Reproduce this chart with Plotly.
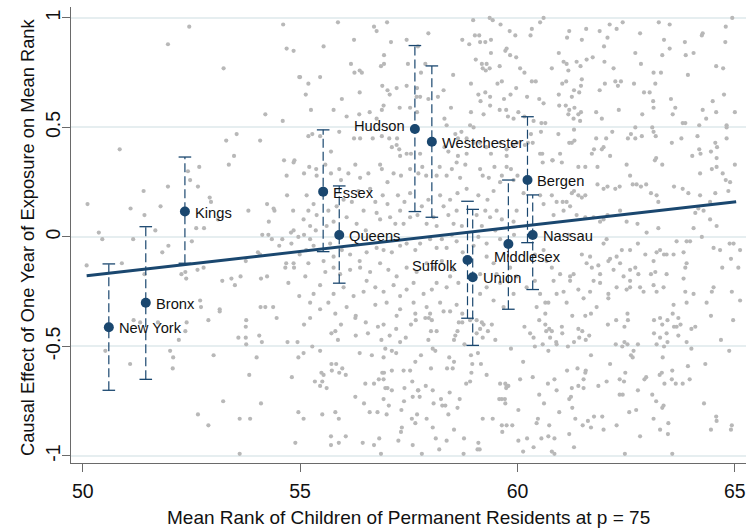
import plotly.graph_objects as go

# Highlighted counties: mean rank of permanent residents' children at p=75,
# causal effect of one year of exposure, and 95% confidence bounds
county = ["New York", "Bronx", "Kings", "Essex", "Queens", "Hudson", "Westchester",
          "Suffolk", "Union", "Middlesex", "Bergen", "Nassau"]
county_rank = [50.60, 51.45, 52.35, 55.53, 55.90, 57.64, 58.03, 58.85, 58.97, 59.79, 60.23, 60.35]
county_effect = [-0.412, -0.300, 0.116, 0.207, 0.009, 0.493, 0.435, -0.105, -0.184, -0.032, 0.260, 0.009]
ci_low = [-0.700, -0.650, -0.120, -0.067, -0.211, 0.116, 0.090, -0.371, -0.495, -0.330, -0.026, -0.240]
ci_high = [-0.123, 0.047, 0.365, 0.489, 0.233, 0.874, 0.781, 0.163, 0.126, 0.260, 0.549, 0.192]

# Linear fit across all counties
fit_rank = [50.09, 65.03]
fit_effect = [-0.177, 0.161]

x_ticks = [50, 55, 60, 65]
y_ticks = [-1, -0.5, 0, 0.5, 1]
y_tick_text = ["-1", "-0.5", "0", "0.5", "1"]

x_title = "Mean Rank of Children of Permanent Residents at p = 75"
y_title = "Causal Effect of One Year of Exposure on Mean Rank"

# All other counties (rank, effect)
other_counties = [
    (52.45, 0.96), (51.96, 0.88), (54.61, 0.97), (54.69, 0.86), (54.85, 0.85), (53.24, 0.77),
    (54.98, 0.73), (54.20, 0.56), (54.60, 0.53), (53.54, 0.47), (53.30, 0.44), (54.08, 0.44),
    (50.85, 0.40), (53.48, 0.37), (54.87, 0.35),
    (55.87, 0.98), (56.70, 0.96), (57.00, 0.98), (56.76, 0.94), (55.54, 0.87), (56.24, 0.90),
    (57.09, 0.89), (57.45, 0.90), (57.95, 0.93), (57.71, 0.87), (56.93, 0.83), (56.17, 0.79),
    (56.25, 0.75), (56.37, 0.76), (56.42, 0.75), (56.86, 0.78), (56.93, 0.79), (57.48, 0.79),
    (57.88, 0.79), (57.78, 0.75), (55.00, 0.73), (55.46, 0.73), (55.19, 0.70), (55.13, 0.65),
    (55.25, 0.58), (55.77, 0.58), (55.96, 0.63), (56.37, 0.66), (56.89, 0.69), (57.01, 0.67),
    (57.06, 0.65), (57.22, 0.68), (57.45, 0.69), (57.69, 0.68), (57.68, 0.64), (57.76, 0.64),
    (57.95, 0.63), (56.88, 0.58), (56.92, 0.60), (57.29, 0.59), (57.53, 0.59), (57.69, 0.57),
    (56.07, 0.55), (56.36, 0.56), (56.60, 0.57), (56.76, 0.54), (55.46, 0.46), (55.19, 0.46),
    (55.28, 0.47), (56.24, 0.45), (56.38, 0.45), (56.67, 0.45), (56.88, 0.46), (57.05, 0.45),
    (57.23, 0.45), (57.11, 0.41), (57.22, 0.42), (57.28, 0.40), (57.45, 0.38), (57.55, 0.38),
    (57.76, 0.38), (57.30, 0.37), (55.71, 0.39), (55.90, 0.48), (58.17, 0.64), (58.30, 0.67),
    (58.47, 0.59), (58.32, 0.54), (58.37, 0.51), (58.57, 0.47), (58.63, 0.45), (58.73, 0.90),
    (58.89, 0.88), (59.02, 0.92), (59.12, 0.92), (59.14, 0.89), (59.26, 0.89), (59.39, 0.90),
    (58.98, 0.99), (59.36, 1.00), (59.43, 0.99), (59.61, 0.97), (59.82, 0.94), (59.95, 0.92),
    (59.04, 0.81), (59.18, 0.79), (59.20, 0.77), (59.27, 0.76), (59.29, 0.79), (59.36, 0.77),
    (59.39, 0.84), (59.59, 0.78), (59.72, 0.85), (59.75, 0.86), (59.83, 0.83), (59.97, 0.82),
    (58.52, 0.74), (58.93, 0.70), (59.10, 0.65), (59.15, 0.62), (59.26, 0.66), (59.37, 0.64),
    (59.54, 0.70), (59.64, 0.71), (59.69, 0.63), (59.84, 0.65), (59.97, 0.68), (59.37, 0.60),
    (59.22, 0.56), (58.93, 0.57), (59.59, 0.58), (59.74, 0.58), (59.78, 0.55), (59.91, 0.54),
    (60.02, 0.57), (58.91, 0.51), (58.99, 0.50), (58.71, 0.48), (58.83, 0.45), (58.99, 0.43),
    (59.14, 0.43), (59.28, 0.41), (59.39, 0.38), (59.60, 0.43), (59.75, 0.40), (59.91, 0.42),
    (58.32, 0.41), (58.41, 0.39), (58.63, 0.37), (58.83, 0.38), (59.75, 0.37), (59.99, 0.43),
    (60.60, 1.00), (60.52, 0.98), (60.33, 0.95), (60.30, 0.92), (61.19, 0.94), (61.14, 0.91),
    (61.48, 0.90), (61.58, 0.95), (61.89, 0.94), (62.12, 0.97), (62.28, 0.95), (62.42, 0.98),
    (62.07, 0.91), (61.99, 0.87), (62.82, 0.93), (63.25, 0.98), (63.50, 0.97), (63.37, 0.90),
    (63.85, 0.89), (64.26, 0.93), (64.24, 0.92), (64.79, 0.96), (64.94, 1.00), (64.78, 0.89),
    (63.50, 0.86), (63.33, 0.83), (63.87, 0.83), (64.05, 0.84), (62.71, 0.84), (62.84, 0.79),
    (60.95, 0.84), (60.79, 0.77), (61.06, 0.80), (61.13, 0.79), (61.36, 0.80), (61.45, 0.78),
    (61.59, 0.81), (61.73, 0.82), (62.00, 0.80), (62.21, 0.77), (61.17, 0.76), (60.06, 0.77),
    (60.16, 0.75), (60.33, 0.71), (60.42, 0.71), (61.48, 0.72), (61.12, 0.71), (61.03, 0.70),
    (61.46, 0.69), (61.30, 0.67), (62.01, 0.70), (62.25, 0.71), (62.38, 0.71), (62.31, 0.69),
    (62.68, 0.70), (61.89, 0.67), (61.42, 0.66), (61.25, 0.64), (60.95, 0.65), (60.22, 0.64),
    (60.50, 0.63), (60.60, 0.61), (60.96, 0.60), (61.11, 0.60), (61.19, 0.58), (61.31, 0.59),
    (61.46, 0.57), (61.40, 0.56), (61.29, 0.54), (61.17, 0.56), (61.44, 0.53), (61.81, 0.57),
    (61.94, 0.54), (62.33, 0.58), (62.87, 0.56), (62.91, 0.66), (63.04, 0.66), (63.12, 0.62),
    (63.13, 0.59), (63.17, 0.70), (63.13, 0.75), (63.30, 0.75), (63.92, 0.74), (63.53, 0.63),
    (63.63, 0.59), (63.57, 0.56), (63.80, 0.52), (63.86, 0.52), (64.18, 0.51), (64.26, 0.58),
    (64.34, 0.54), (64.49, 0.62), (64.57, 0.57), (64.75, 0.65), (64.57, 0.78), (64.73, 0.77),
    (65.00, 0.57), (64.81, 0.50), (60.16, 0.55), (60.37, 0.53), (60.55, 0.52), (60.64, 0.52),
    (60.31, 0.47), (60.35, 0.43), (60.17, 0.42), (60.24, 0.43), (60.54, 0.48), (60.52, 0.38),
    (60.57, 0.38), (60.94, 0.47), (61.19, 0.43), (61.25, 0.43), (61.31, 0.44), (60.98, 0.38),
    (61.30, 0.49), (60.80, 0.35), (61.81, 0.45), (62.04, 0.45), (62.18, 0.48), (61.98, 0.41),
    (61.94, 0.40), (61.76, 0.40), (61.71, 0.38), (62.13, 0.37), (62.54, 0.45), (62.61, 0.47),
    (62.71, 0.45), (62.71, 0.50), (62.86, 0.46), (63.10, 0.50), (63.13, 0.48), (63.18, 0.46),
    (63.19, 0.36), (63.55, 0.43), (63.77, 0.45), (64.14, 0.46), (64.18, 0.40), (64.21, 0.38),
    (64.02, 0.37), (64.45, 0.39), (64.55, 0.43), (64.59, 0.41), (64.81, 0.45), (64.81, 0.51),
    (64.58, 0.36),
    (52.42, 0.30), (52.47, 0.26), (52.68, 0.32), (52.65, 0.23), (53.36, 0.33), (51.96, 0.23),
    (51.40, 0.21), (50.11, 0.15), (51.10, 0.13), (51.42, 0.10), (51.79, 0.14), (52.92, 0.18),
    (52.95, 0.16), (53.11, 0.08), (52.61, 0.04), (52.79, 0.04), (51.67, 0.03), (50.37, 0.02),
    (50.45, -0.01), (51.16, -0.01), (52.51, -0.02), (51.97, -0.04), (51.83, -0.07), (50.09, -0.13),
    (50.90, -0.12), (51.42, -0.17), (52.27, -0.17), (52.38, -0.19), (52.36, -0.16), (52.64, -0.15),
    (52.78, -0.14), (52.70, -0.29), (52.72, -0.32), (53.15, -0.33), (53.21, -0.20), (53.42, -0.19),
    (53.50, -0.22), (53.63, -0.18), (53.75, -0.11), (53.81, 0.12), (54.03, -0.07), (54.08, -0.08),
    (54.13, 0.01), (54.24, 0.15), (54.39, 0.13), (54.41, 0.12), (54.28, 0.07), (54.35, -0.01),
    (54.27, 0.01), (54.52, -0.04), (54.59, -0.01), (54.70, 0.19), (54.84, 0.12), (54.79, 0.02),
    (54.85, 0.03), (54.80, -0.03), (54.96, 0.00), (54.68, -0.12), (54.66, -0.14), (54.85, -0.12),
    (54.86, -0.14), (54.99, -0.08), (54.10, -0.19), (54.24, -0.18), (54.73, -0.21), (54.98, -0.27),
    (54.38, -0.32), (54.20, -0.32), (54.09, -0.32), (54.63, 0.35), (54.85, 0.34), (54.69, 0.28),
    (55.09, 0.29), (55.21, 0.32), (55.38, 0.28), (55.37, 0.31), (55.58, 0.33), (55.71, 0.29),
    (55.90, 0.31), (55.94, 0.26), (56.11, 0.29), (56.27, 0.33), (56.38, 0.27), (56.57, 0.29),
    (56.84, 0.33), (56.88, 0.31), (57.01, 0.25), (57.15, 0.29), (57.32, 0.28), (57.53, 0.31),
    (57.72, 0.29), (57.81, 0.32), (57.90, 0.28), (58.14, 0.28), (58.21, 0.32), (58.37, 0.28),
    (58.49, 0.31), (58.60, 0.34), (58.68, 0.27), (58.80, 0.33), (59.14, 0.31), (59.20, 0.28),
    (59.34, 0.27), (59.47, 0.32), (59.60, 0.25), (59.64, 0.28), (59.75, 0.32), (59.85, 0.31),
    (59.91, 0.26), (60.00, 0.28), (59.45, 0.21), (59.31, 0.17), (59.10, 0.19), (58.83, 0.22),
    (58.62, 0.20), (58.45, 0.17), (58.30, 0.14), (58.22, 0.19), (57.95, 0.17), (57.80, 0.14),
    (57.53, 0.20), (57.40, 0.16), (57.25, 0.19), (57.01, 0.15), (56.90, 0.19), (56.73, 0.16),
    (56.61, 0.22), (56.34, 0.21), (56.19, 0.16), (56.00, 0.17), (55.84, 0.14), (55.65, 0.12),
    (55.38, 0.10), (55.31, 0.15), (55.15, 0.19), (55.19, 0.12), (55.08, 0.08), (55.23, 0.05),
    (55.36, 0.03), (55.09, 0.01), (55.23, -0.01), (55.14, -0.06), (55.31, -0.04), (55.61, 0.05),
    (55.69, -0.03), (55.77, 0.07), (56.07, 0.09), (56.30, 0.06), (56.46, 0.12), (56.51, 0.03),
    (56.76, 0.11), (56.84, 0.08), (57.07, 0.09), (57.30, 0.12), (57.19, 0.06), (57.38, 0.06),
    (57.53, 0.09), (57.70, 0.10), (57.91, 0.06), (58.07, 0.09), (58.14, 0.05), (58.41, 0.10),
    (58.53, 0.06), (58.60, 0.12), (58.72, 0.05), (59.06, 0.10), (59.26, 0.12), (59.37, 0.09),
    (59.52, 0.12), (59.64, 0.08), (59.91, 0.07), (59.98, 0.12), (59.18, 0.05), (59.49, 0.03),
    (59.60, -0.01), (59.92, 0.01), (58.49, 0.01), (58.26, -0.01), (58.37, -0.05), (58.60, -0.02),
    (58.74, -0.07), (58.14, -0.05), (57.99, -0.01), (57.76, -0.03), (57.65, -0.06), (57.45, -0.03),
    (57.30, -0.04), (57.11, -0.07), (56.92, -0.06), (56.76, -0.05), (56.53, -0.07), (56.37, -0.11),
    (56.15, -0.08), (55.96, -0.06), (55.77, -0.09), (55.54, -0.11), (55.58, -0.16), (55.77, -0.14),
    (55.92, -0.17), (56.15, -0.15), (56.38, -0.14), (56.61, -0.16), (56.84, -0.12), (57.03, -0.15),
    (57.22, -0.18), (57.45, -0.14), (57.68, -0.16), (57.91, -0.12), (58.07, -0.14), (58.26, -0.11),
    (58.53, -0.15), (58.45, -0.18), (58.64, -0.21), (58.37, -0.23), (58.14, -0.21), (58.03, -0.24),
    (57.84, -0.26), (57.61, -0.21), (57.45, -0.24), (57.30, -0.27), (57.15, -0.22), (56.92, -0.25),
    (56.73, -0.23), (56.53, -0.20), (56.46, -0.25), (56.23, -0.27), (56.00, -0.23), (55.77, -0.26),
    (55.65, -0.30), (55.46, -0.22), (55.31, -0.26), (55.23, -0.30), (55.12, -0.18), (55.19, -0.12),
    (59.29, -0.09), (59.45, -0.12), (59.52, -0.17), (59.60, -0.21), (59.29, -0.23), (59.14, -0.26),
    (59.45, -0.29), (59.68, -0.32), (59.91, -0.26), (59.98, -0.18), (59.83, -0.14), (59.14, -0.17),
    (59.29, -0.03), (59.10, 0.00), (58.99, -0.04), (56.73, -0.31), (56.99, -0.30), (57.30, -0.33),
    (57.61, -0.30), (57.91, -0.32), (58.22, -0.30), (58.60, -0.31), (56.07, -0.32), (55.46, -0.33),
    (60.58, 0.34), (60.81, 0.35), (61.02, 0.34), (61.40, 0.32), (61.56, 0.32), (61.84, 0.32),
    (62.51, 0.33), (63.16, 0.35), (63.33, 0.33), (64.20, 0.29), (64.47, 0.31), (64.58, 0.32),
    (64.72, 0.29), (64.89, 0.25), (64.79, 0.26), (65.00, 0.33), (60.14, 0.20), (60.52, 0.19),
    (60.60, 0.15), (60.79, 0.19), (60.90, 0.16), (61.04, 0.16), (61.13, 0.16), (61.25, 0.20),
    (61.30, 0.21), (61.40, 0.19), (61.48, 0.18), (61.56, 0.19), (61.84, 0.24), (61.98, 0.22),
    (62.07, 0.23), (62.25, 0.22), (62.35, 0.23), (62.59, 0.28), (62.65, 0.24), (62.74, 0.24),
    (62.84, 0.23), (62.96, 0.24), (63.07, 0.20), (63.20, 0.19), (63.24, 0.16), (63.60, 0.23),
    (63.80, 0.22), (63.93, 0.20), (64.20, 0.19), (64.43, 0.16), (64.55, 0.20), (64.85, 0.21),
    (60.83, 0.10), (61.06, 0.12), (61.21, 0.14), (61.36, 0.10), (61.56, 0.09), (61.75, 0.09),
    (61.90, 0.07), (61.98, 0.08), (62.07, 0.10), (62.36, 0.12), (62.51, 0.07), (62.76, 0.06),
    (62.97, 0.02), (63.24, 0.04), (61.17, 0.01), (62.05, -0.01), (61.98, -0.03), (62.13, -0.10),
    (62.28, -0.09), (62.40, -0.06), (62.59, -0.06), (62.77, -0.03), (62.94, -0.08), (63.13, -0.11),
    (63.20, -0.07), (63.28, -0.06), (63.37, -0.08), (63.43, -0.08), (63.59, -0.08), (63.66, -0.02),
    (63.82, -0.07), (63.89, -0.02), (63.97, -0.02), (64.05, 0.04), (64.09, 0.11), (64.16, 0.13),
    (64.28, 0.12), (64.43, 0.08), (64.58, 0.05), (64.24, 0.00), (64.51, -0.05), (64.66, -0.06),
    (64.88, -0.03), (64.97, -0.03), (64.91, -0.10), (65.12, -0.06), (60.60, -0.06), (60.40, -0.08),
    (60.67, -0.11), (60.79, -0.14), (60.83, -0.20), (60.98, -0.17), (61.21, -0.18), (61.29, -0.17),
    (61.59, -0.12), (61.67, -0.09), (61.48, -0.08), (61.71, -0.14), (61.86, -0.13), (61.90, -0.17),
    (62.09, -0.11), (62.21, -0.15), (62.36, -0.12), (62.59, -0.15), (62.71, -0.14), (62.44, -0.18),
    (62.59, -0.20), (62.78, -0.17), (63.07, -0.17), (63.17, -0.16), (63.43, -0.17), (63.86, -0.14),
    (63.89, -0.12), (64.71, -0.14), (65.08, -0.14), (60.21, -0.23), (60.40, -0.20), (60.52, -0.26),
    (60.64, -0.30), (60.44, -0.32), (60.71, -0.30), (60.90, -0.26), (61.06, -0.25), (61.13, -0.30),
    (61.21, -0.20), (61.40, -0.24), (61.52, -0.28), (61.67, -0.25), (61.75, -0.20), (61.90, -0.21),
    (62.09, -0.26), (62.09, -0.28), (62.28, -0.23), (62.51, -0.24), (62.59, -0.23), (62.82, -0.23),
    (62.90, -0.25), (63.13, -0.22), (63.20, -0.25), (63.36, -0.23), (63.59, -0.31), (63.82, -0.19),
    (63.86, -0.25), (63.89, -0.30), (64.05, -0.26), (64.47, -0.25), (64.51, -0.23), (64.35, -0.30),
    (64.93, -0.25), (65.12, -0.29), (61.82, -0.32),
    (51.17, -0.38), (51.32, -0.39), (51.73, -0.39), (52.39, -0.39), (52.36, -0.43), (52.21, -0.47),
    (52.89, -0.38), (53.15, -0.34), (53.76, -0.38), (53.75, -0.41), (53.58, -0.46), (53.75, -0.46),
    (53.76, -0.49), (54.06, -0.45), (54.12, -0.48), (54.46, -0.37), (54.71, -0.48), (54.94, -0.48),
    (50.52, -0.52), (51.09, -0.58), (52.01, -0.52), (52.08, -0.55), (52.07, -0.60), (53.01, -0.54),
    (54.00, -0.55), (54.96, -0.55), (53.83, -0.63), (54.81, -0.64), (53.23, -0.75), (54.10, -0.76),
    (52.65, -0.81), (53.61, -0.83), (53.85, -0.83), (52.89, -0.86), (54.96, -0.80), (54.89, -0.94),
    (53.61, -0.99),
    (55.81, -0.35), (56.28, -0.36), (56.27, -0.37), (57.22, -0.36), (57.65, -0.35), (57.66, -0.38),
    (57.88, -0.37), (57.96, -0.37), (58.03, -0.38), (57.99, -0.35), (58.30, -0.34), (58.45, -0.34),
    (58.73, -0.35), (58.65, -0.39), (58.73, -0.39), (58.91, -0.38), (59.06, -0.38), (59.18, -0.39),
    (59.22, -0.40), (59.41, -0.40), (59.14, -0.42), (59.32, -0.43), (59.06, -0.44), (59.20, -0.46),
    (59.49, -0.47), (58.62, -0.43), (58.57, -0.45), (58.54, -0.47), (58.78, -0.49), (55.09, -0.40),
    (55.23, -0.37), (55.72, -0.44), (55.81, -0.43), (55.94, -0.40), (55.87, -0.47), (56.28, -0.45),
    (56.51, -0.39), (56.56, -0.44), (56.79, -0.41), (56.92, -0.40), (57.06, -0.45), (57.21, -0.42),
    (57.30, -0.48), (57.43, -0.46), (57.55, -0.40), (56.87, -0.47), (57.95, -0.47), (58.01, -0.43),
    (58.14, -0.43), (55.08, -0.53), (55.28, -0.50), (55.46, -0.52), (56.37, -0.53), (56.65, -0.54),
    (56.92, -0.55), (56.96, -0.51), (57.11, -0.52), (57.21, -0.53), (57.65, -0.57), (57.78, -0.54),
    (58.05, -0.51), (58.11, -0.52), (58.43, -0.55), (58.54, -0.57), (58.93, -0.54), (59.09, -0.53),
    (58.96, -0.58), (59.16, -0.58), (59.85, -0.51), (55.72, -0.58), (55.83, -0.58), (55.97, -0.60),
    (55.73, -0.61), (55.90, -0.62), (56.05, -0.63), (55.49, -0.62), (55.54, -0.63), (55.34, -0.66),
    (55.51, -0.66), (55.46, -0.68), (55.61, -0.69), (56.89, -0.62), (56.93, -0.62), (56.81, -0.65),
    (56.92, -0.65), (56.70, -0.67), (56.96, -0.69), (57.01, -0.69), (57.11, -0.70), (56.50, -0.67),
    (57.11, -0.61), (57.38, -0.61), (57.53, -0.61), (57.58, -0.66), (57.40, -0.69), (57.71, -0.70),
    (57.72, -0.70), (57.89, -0.68), (58.05, -0.70), (58.01, -0.60), (58.38, -0.60), (58.51, -0.60),
    (58.44, -0.71), (58.67, -0.74), (58.94, -0.62), (58.91, -0.66), (58.82, -0.67), (59.29, -0.63),
    (59.60, -0.67), (59.72, -0.67), (59.75, -0.68), (59.79, -0.68), (59.74, -0.69), (56.47, -0.76),
    (56.27, -0.73), (56.92, -0.74), (57.04, -0.77), (57.39, -0.75), (57.59, -0.73), (57.75, -0.73),
    (58.07, -0.76), (58.24, -0.74), (58.27, -0.77), (58.34, -0.77), (58.62, -0.78), (59.64, -0.74),
    (59.71, -0.74), (59.72, -0.76), (59.58, -0.74), (56.60, -0.80), (56.78, -0.80), (56.99, -0.81),
    (57.33, -0.79), (57.69, -0.81), (57.57, -0.83), (57.65, -0.85), (57.91, -0.83), (58.41, -0.81),
    (59.20, -0.83), (59.43, -0.83), (55.08, -0.83), (55.51, -0.81), (55.81, -0.80), (55.89, -0.83),
    (58.05, -0.87), (57.34, -0.87), (57.32, -0.89), (58.54, -0.88), (59.64, -0.86), (59.75, -0.86),
    (59.88, -0.86), (59.65, -0.89), (60.02, -0.79), (55.71, -0.91), (56.05, -0.91), (55.71, -0.95),
    (55.89, -0.94), (56.44, -0.94), (56.70, -0.95), (56.82, -0.92), (57.26, -0.93), (57.59, -0.95),
    (58.12, -0.92), (58.37, -0.93), (58.77, -0.92), (59.10, -0.94), (59.08, -0.97), (59.13, -0.97),
    (56.86, -0.99), (57.80, -0.99), (58.20, -0.97), (58.76, -0.99), (60.02, -0.93),
    (60.16, -0.41), (60.50, -0.38), (60.64, -0.35), (60.64, -0.40), (60.66, -0.43), (60.73, -0.42),
    (60.79, -0.43), (60.75, -0.46), (60.29, -0.44), (60.37, -0.46), (60.40, -0.50), (60.58, -0.49),
    (60.71, -0.52), (60.89, -0.48), (60.90, -0.49), (61.02, -0.41), (61.03, -0.44), (61.16, -0.50),
    (61.26, -0.36), (61.30, -0.48), (61.40, -0.42), (61.49, -0.43), (61.42, -0.46), (61.57, -0.47),
    (61.65, -0.45), (61.56, -0.36), (61.69, -0.35), (62.08, -0.40), (62.27, -0.38), (62.46, -0.41),
    (62.53, -0.35), (62.54, -0.38), (62.26, -0.49), (62.41, -0.50), (62.46, -0.48), (62.53, -0.49),
    (62.77, -0.49), (62.67, -0.52), (62.61, -0.54), (62.65, -0.55), (61.69, -0.54), (63.14, -0.38),
    (63.28, -0.37), (63.33, -0.40), (63.45, -0.38), (63.57, -0.35), (63.70, -0.37), (63.75, -0.40),
    (63.60, -0.41), (63.66, -0.41), (63.43, -0.44), (63.28, -0.46), (63.14, -0.44), (63.20, -0.49),
    (63.37, -0.50), (63.45, -0.48), (63.70, -0.45), (63.89, -0.48), (64.00, -0.42), (64.09, -0.41),
    (64.00, -0.51), (64.45, -0.36), (64.68, -0.47), (64.96, -0.38), (64.87, -0.52), (63.34, -0.55),
    (60.13, -0.57), (60.35, -0.64), (60.06, -0.65), (60.70, -0.67), (60.85, -0.65), (60.90, -0.70),
    (61.14, -0.61), (61.38, -0.60), (61.57, -0.61), (61.56, -0.62), (61.52, -0.65), (61.25, -0.69),
    (61.40, -0.68), (61.52, -0.69), (61.86, -0.68), (62.05, -0.66), (62.13, -0.58), (62.35, -0.65),
    (62.45, -0.66), (62.48, -0.62), (62.77, -0.70), (62.92, -0.65), (62.96, -0.64), (63.27, -0.63),
    (63.32, -0.62), (63.38, -0.67), (63.56, -0.61), (63.55, -0.65), (63.64, -0.67), (63.80, -0.67),
    (63.92, -0.59), (63.96, -0.65), (64.32, -0.58), (60.50, -0.72), (60.61, -0.76), (60.96, -0.80),
    (61.19, -0.74), (61.23, -0.73), (61.26, -0.78), (62.35, -0.72), (62.42, -0.72), (62.57, -0.80),
    (62.73, -0.79), (63.10, -0.72), (63.19, -0.75), (63.36, -0.77), (63.33, -0.78), (64.29, -0.76),
    (60.44, -0.85), (60.47, -0.83), (60.73, -0.86), (61.33, -0.83), (61.50, -0.86), (61.62, -0.84),
    (61.69, -0.87), (61.76, -0.82), (61.95, -0.82), (61.98, -0.88), (62.28, -0.86), (61.19, -0.90),
    (62.82, -0.91), (63.13, -0.83), (63.28, -0.88), (63.47, -0.85), (63.46, -0.90), (64.45, -0.88),
    (64.57, -0.82), (64.58, -0.84), (64.93, -0.86), (64.91, -0.88), (60.22, -0.92), (60.55, -0.92),
    (60.71, -0.91), (60.85, -0.92), (60.37, -0.96), (60.13, -0.98), (60.79, -0.98), (60.85, -0.99),
    (61.30, -0.96), (62.47, -0.99), (63.56, -0.99),
]
other_rank = [p[0] for p in other_counties]
other_effect = [p[1] for p in other_counties]

NAVY = "#1a476f"
FONT = "Arial, Liberation Sans, sans-serif"
TEXT = "#111111"

fig = go.Figure()

# Background scatter of all counties
fig.add_trace(go.Scatter(
    x=other_rank, y=other_effect, mode="markers",
    marker=dict(color="#b8b8b8", size=4.2, line=dict(width=0)),
    hoverinfo="skip", showlegend=False,
))

# Dashed confidence intervals
ci_x, ci_y = [], []
for xv, lo, hi in zip(county_rank, ci_low, ci_high):
    ci_x += [xv, xv, None]
    ci_y += [lo, hi, None]
fig.add_trace(go.Scatter(
    x=ci_x, y=ci_y, mode="lines",
    line=dict(color=NAVY, width=1.2, dash="9px,4px"),
    hoverinfo="skip", showlegend=False,
))
# Caps at both ends of each interval
fig.add_trace(go.Scatter(
    x=county_rank + county_rank, y=ci_low + ci_high, mode="markers",
    marker=dict(symbol="line-ew", size=9, line=dict(color=NAVY, width=1.3)),
    hoverinfo="skip", showlegend=False,
))

# Fitted line
fig.add_trace(go.Scatter(
    x=fit_rank, y=fit_effect, mode="lines",
    line=dict(color=NAVY, width=3),
    hoverinfo="skip", showlegend=False,
))

# Highlighted counties
fig.add_trace(go.Scatter(
    x=county_rank, y=county_effect, mode="markers",
    marker=dict(color=NAVY, size=10, line=dict(width=0)),
    hoverinfo="skip", showlegend=False,
))

# County names next to their markers
label_style = {
    "Hudson": ("right", -8, 3),
    "Suffolk": ("right", -9, -6),
    "Middlesex": ("left", -16, -13),
}
for name, xv, yv in zip(county, county_rank, county_effect):
    anchor, dx, dy = label_style.get(name, ("left", 8, -1))
    fig.add_annotation(
        x=xv, y=yv, text=name, showarrow=False,
        xanchor=anchor, yanchor="middle", xshift=dx, yshift=dy,
        font=dict(family=FONT, size=14.7, color=TEXT),
    )

# Axis titles
fig.add_annotation(
    x=0.5, y=-0.1206, xref="paper", yref="paper", text=x_title, showarrow=False,
    xanchor="center", yanchor="middle",
    font=dict(family=FONT, size=19, color=TEXT),
)
fig.add_annotation(
    x=-0.0652, y=0.4956, xref="paper", yref="paper", text=y_title, showarrow=False,
    xanchor="center", yanchor="middle", textangle=-90,
    font=dict(family=FONT, size=18.3, color=TEXT),
)

fig.update_layout(
    width=748, height=531,
    margin=dict(l=71, r=2, t=7, b=68),
    paper_bgcolor="white", plot_bgcolor="white",
    font=dict(family=FONT, color=TEXT),
)
fig.update_xaxes(
    range=[49.73, 65.256], tickvals=x_ticks, ticktext=[str(v) for v in x_ticks],
    showgrid=False, zeroline=False,
    showline=True, linecolor="#6a6a6a", linewidth=1.2,
    ticks="outside", ticklen=8, tickwidth=1.2, tickcolor="#6a6a6a",
    tickfont=dict(family=FONT, size=19.5, color=TEXT), ticklabelstandoff=2,
    automargin=False,
)
fig.update_yaxes(
    range=[-1.032, 1.05], tickvals=y_ticks, ticktext=y_tick_text, tickangle=-90,
    showgrid=True, gridcolor="#e6eef0", gridwidth=1.5, zeroline=False,
    showline=True, linecolor="#6a6a6a", linewidth=1.2,
    ticks="outside", ticklen=8, tickwidth=1.2, tickcolor="#6a6a6a",
    tickfont=dict(family=FONT, size=19.5, color=TEXT), ticklabelstandoff=-6,
    automargin=False,
)

fig.write_html("out.html")
